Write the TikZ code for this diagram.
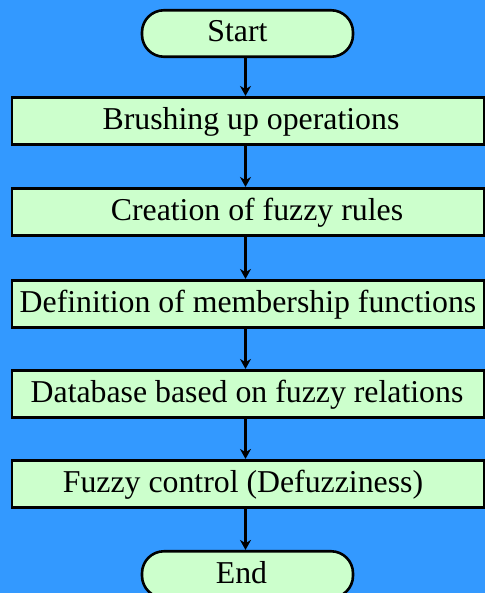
\documentclass[tikz,border=0pt]{standalone}
\usepackage{fontspec}
\setmainfont{Liberation Serif}
\usetikzlibrary{arrows.meta}
\definecolor{bgblue}{HTML}{3399FF}
\definecolor{boxgreen}{HTML}{CCFFCC}
\begin{document}
\begin{tikzpicture}[x=1pt,y=-1pt,
  stepbox/.style={draw=black,line width=2.6pt,fill=boxgreen,minimum width=472pt,minimum height=47.5pt,inner sep=0pt,text height=23.5pt,text depth=6pt,font=\fontsize{31.8}{36}\selectfont},
  termbox/.style={draw=black,line width=2.6pt,fill=boxgreen,minimum width=211pt,minimum height=46.5pt,inner sep=0pt,text height=23pt,text depth=6pt,rounded corners=22pt,font=\fontsize{31.8}{36}\selectfont},
  flow/.style={line width=2.2pt,-{Stealth[length=10pt,width=11pt]}}]
\fill[bgblue] (0,0) rectangle (485,593);
\useasboundingbox (0,0) rectangle (485,593);
\coordinate (ax) at (245.5,0);
\node[termbox] (start) at (247.5,33.5) {\hspace*{-20pt}Start};
\node[stepbox] (s1) at (248,121) {\hspace*{6pt}Brushing up operations};
\node[stepbox] (s2) at (248,212) {\hspace*{18pt}Creation of fuzzy rules};
\node[stepbox] (s3) at (248,304) {Definition of membership functions};
\node[stepbox] (s4) at (248,394) {\hspace*{-2pt}Database based on fuzzy relations};
\node[stepbox] (s5) at (248,484) {\hspace*{-10pt}Fuzzy control (Defuzziness)};
\node[termbox] (end) at (247.5,574.5) {\hspace*{-12pt}End};
\draw[flow] (start.south -| ax) -- (s1.north -| ax);
\draw[flow] (s1.south -| ax) -- (s2.north -| ax);
\draw[flow] (s2.south -| ax) -- (s3.north -| ax);
\draw[flow] (s3.south -| ax) -- (s4.north -| ax);
\draw[flow] (s4.south -| ax) -- (s5.north -| ax);
\draw[flow] (s5.south -| ax) -- (end.north -| ax);
\end{tikzpicture}
\end{document}
